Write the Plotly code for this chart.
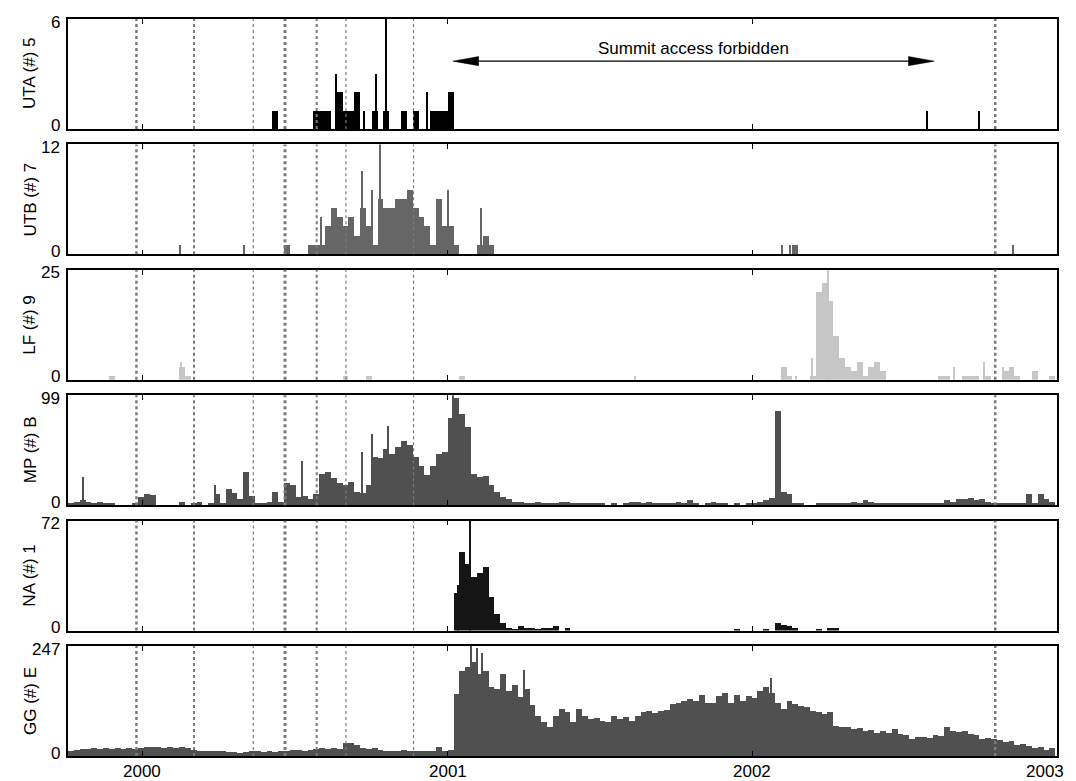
import pandas as pd
import plotly.graph_objects as go
from plotly.subplots import make_subplots

# ---------------- data (weekly event counts, weeks starting 1999-10-04) ----------------
START = "1999-10-04"
N_WEEKS = 169
weeks = pd.date_range(START, periods=N_WEEKS, freq="7D")

uta = [
    0, 0, 0, 0, 0, 0, 0, 0, 0, 0,
    0, 0, 0, 0, 0, 0, 0, 0, 0, 0,
    0, 0, 0, 0, 0, 0, 0, 0, 0, 0,
    0, 0, 0, 0, 0, 1, 0, 0, 0, 0,
    0, 0, 1, 1, 1, 0, 2, 1, 1, 2,
    0, 0, 1, 0, 1, 0, 0, 1, 0, 1,
    0, 0, 1, 1, 1, 2, 0, 0, 0, 0,
    0, 0, 0, 0, 0, 0, 0, 0, 0, 0,
    0, 0, 0, 0, 0, 0, 0, 0, 0, 0,
    0, 0, 0, 0, 0, 0, 0, 0, 0, 0,
    0, 0, 0, 0, 0, 0, 0, 0, 0, 0,
    0, 0, 0, 0, 0, 0, 0, 0, 0, 0,
    0, 0, 0, 0, 0, 0, 0, 0, 0, 0,
    0, 0, 0, 0, 0, 0, 0, 0, 0, 0,
    0, 0, 0, 0, 0, 0, 0, 0, 0, 0,
    0, 0, 0, 0, 0, 0, 0, 0, 0, 0,
    0, 0, 0, 0, 0, 0, 0, 0, 0,
]
uta_spike_dates = ["2000-08-20", "2000-09-23", "2000-10-07", "2000-10-19", "2000-12-07",
                   "2002-07-30", "2002-09-30"]
uta_spike_vals = [3, 1, 3, 6, 2, 1, 1]

utb = [
    0, 0, 0, 0, 0, 0, 0, 0, 0, 0,
    0, 0, 0, 0, 0, 0, 0, 0, 0, 0,
    0, 0, 0, 0, 0, 0, 0, 0, 0, 0,
    0, 0, 0, 0, 0, 0, 0, 1, 0, 0,
    0, 1, 1, 1, 3, 5, 4, 3, 4, 2,
    5, 3, 1, 6, 5, 5, 6, 6, 7, 5,
    4, 3, 1, 6, 3, 3, 1, 0, 0, 0,
    1, 2, 1, 0, 0, 0, 0, 0, 0, 0,
    0, 0, 0, 0, 0, 0, 0, 0, 0, 0,
    0, 0, 0, 0, 0, 0, 0, 0, 0, 0,
    0, 0, 0, 0, 0, 0, 0, 0, 0, 0,
    0, 0, 0, 0, 0, 0, 0, 0, 0, 0,
    0, 0, 0, 0, 1, 0, 0, 0, 0, 0,
    0, 0, 0, 0, 0, 0, 0, 0, 0, 0,
    0, 0, 0, 0, 0, 0, 0, 0, 0, 0,
    0, 0, 0, 0, 0, 0, 0, 0, 0, 0,
    0, 0, 0, 0, 0, 0, 0, 0, 0,
]
utb_spike_dates = ["2000-02-15", "2000-05-02", "2000-08-02", "2000-09-20", "2000-10-03",
                   "2000-10-12", "2001-01-01", "2001-02-10", "2002-02-06", "2002-02-15",
                   "2002-11-09"]
utb_spike_vals = [1, 1, 4, 9, 7, 12, 7, 5, 1, 1, 1]

lf = [
    0, 0, 0, 0, 0, 0, 0, 1, 0, 0,
    0, 0, 0, 0, 0, 0, 0, 0, 0, 3,
    1, 0, 0, 0, 0, 0, 0, 0, 0, 0,
    0, 0, 0, 0, 0, 0, 0, 0, 0, 0,
    0, 0, 0, 0, 0, 0, 0, 1, 0, 0,
    0, 1, 0, 0, 0, 0, 0, 0, 0, 0,
    0, 0, 0, 0, 0, 0, 0, 1, 0, 0,
    0, 0, 0, 0, 0, 0, 0, 0, 0, 0,
    0, 0, 0, 0, 0, 0, 0, 0, 0, 0,
    0, 0, 0, 0, 0, 0, 0, 0, 0, 0,
    0, 0, 0, 0, 0, 0, 0, 0, 0, 0,
    0, 0, 0, 0, 0, 0, 0, 0, 0, 0,
    0, 0, 3, 1, 0, 0, 0, 1, 20, 22,
    18, 10, 5, 3, 2, 4, 1, 3, 4, 2,
    0, 0, 0, 0, 0, 0, 0, 0, 0, 1,
    1, 0, 0, 1, 1, 1, 0, 1, 0, 0,
    2, 3, 1, 0, 0, 2, 0, 0, 1,
]
lf_spike_dates = ["2000-02-17", "2001-08-14", "2002-02-22", "2002-03-14", "2002-04-02",
                  "2002-08-31", "2002-10-06", "2002-10-28"]
lf_spike_vals = [4, 1, 1, 5, 25, 3, 4, 3]

mp = [
    1, 3, 4, 3, 2, 3, 1, 1, 0, 0,
    0, 1, 7, 10, 9, 0, 0, 0, 0, 3,
    0, 1, 3, 0, 1, 10, 1, 14, 11, 5,
    30, 8, 2, 2, 3, 12, 3, 20, 18, 7,
    8, 5, 10, 28, 30, 24, 20, 18, 21, 12,
    11, 18, 43, 42, 50, 46, 52, 58, 54, 43,
    35, 27, 35, 46, 48, 78, 96, 82, 70, 28,
    25, 26, 18, 12, 7, 5, 3, 3, 2, 1,
    3, 1, 2, 1, 3, 3, 1, 1, 1, 2,
    1, 1, 0, 1, 0, 1, 3, 3, 2, 3,
    1, 1, 1, 2, 3, 2, 4, 1, 0, 1,
    3, 2, 1, 0, 1, 0, 1, 2, 3, 4,
    6, 85, 12, 10, 2, 1, 0, 0, 1, 1,
    2, 1, 1, 1, 3, 1, 4, 3, 2, 1,
    1, 1, 2, 1, 2, 1, 1, 2, 1, 1,
    4, 3, 5, 5, 6, 4, 5, 3, 2, 1,
    1, 1, 2, 1, 10, 1, 10, 5, 3,
]
mp_spike_dates = ["1999-10-22", "2000-03-28", "2000-07-10", "2000-09-20", "2000-10-02",
                  "2000-10-22", "2001-01-08"]
mp_spike_vals = [25, 18, 40, 48, 64, 71, 99]

na = [
    0, 0, 0, 0, 0, 0, 0, 0, 0, 0,
    0, 0, 0, 0, 0, 0, 0, 0, 0, 0,
    0, 0, 0, 0, 0, 0, 0, 0, 0, 0,
    0, 0, 0, 0, 0, 0, 0, 0, 0, 0,
    0, 0, 0, 0, 0, 0, 0, 0, 0, 0,
    0, 0, 0, 0, 0, 0, 0, 0, 0, 0,
    0, 0, 0, 0, 0, 0, 25, 52, 44, 35,
    38, 42, 22, 11, 5, 2, 1, 3, 2, 2,
    1, 2, 2, 3, 0, 2, 0, 0, 0, 0,
    0, 0, 0, 0, 0, 0, 0, 0, 0, 0,
    0, 0, 0, 0, 0, 0, 0, 0, 0, 0,
    0, 0, 0, 0, 1, 0, 0, 0, 0, 1,
    0, 5, 4, 3, 2, 0, 0, 0, 1, 0,
    2, 2, 0, 0, 0, 0, 0, 0, 0, 0,
    0, 0, 0, 0, 0, 0, 0, 0, 0, 0,
    0, 0, 0, 0, 0, 0, 0, 0, 0, 0,
    0, 0, 0, 0, 0, 0, 0, 0, 0,
]
na_spike_dates = ["2001-01-13", "2001-01-28"]
na_spike_vals = [30, 72]

gg = [
    10, 14, 16, 15, 17, 16, 18, 15, 17, 16,
    18, 15, 17, 20, 19, 21, 18, 20, 17, 19,
    18, 14, 11, 10, 11, 11, 10, 9, 8, 7,
    9, 10, 10, 9, 11, 8, 10, 12, 13, 14,
    12, 14, 15, 17, 16, 18, 16, 28, 30, 24,
    17, 16, 18, 14, 12, 12, 11, 13, 11, 12,
    11, 12, 11, 21, 12, 14, 140, 190, 200, 210,
    185, 190, 155, 150, 185, 145, 160, 132, 150, 115,
    90, 76, 66, 90, 105, 98, 76, 105, 90, 83,
    86, 79, 76, 90, 83, 87, 79, 90, 98, 100,
    96, 101, 104, 116, 120, 123, 127, 123, 138, 120,
    118, 134, 142, 120, 138, 123, 134, 130, 145, 156,
    142, 120, 105, 123, 116, 112, 109, 101, 98, 95,
    98, 68, 64, 66, 60, 63, 55, 58, 52, 56,
    51, 61, 50, 47, 39, 42, 43, 40, 46, 44,
    65, 57, 53, 57, 50, 47, 39, 41, 37, 35,
    32, 34, 24, 27, 22, 17, 19, 13, 17,
]
gg_spike_dates = ["2001-01-29", "2001-02-05", "2001-02-11", "2001-04-02", "2002-01-23"]
gg_spike_vals = [247, 243, 232, 193, 176]

labels = ["UTA (#) 5", "UTB (#) 7", "LF (#) 9", "MP (#) B", "NA (#) 1", "GG (#) E"]
y_max = [6, 12, 25, 99, 72, 247]
colors = ["#000000", "#666666", "#c6c6c6", "#505050", "#151515", "#505050"]
series = [uta, utb, lf, mp, na, gg]
spike_dates = [uta_spike_dates, utb_spike_dates, lf_spike_dates, mp_spike_dates,
               na_spike_dates, gg_spike_dates]
spike_vals = [uta_spike_vals, utb_spike_vals, lf_spike_vals, mp_spike_vals,
              na_spike_vals, gg_spike_vals]

year_ticks = ["2000-01-01", "2001-01-01", "2002-01-01", "2003-01-01"]
year_labels = ["2000", "2001", "2002", "2003"]

# marked dates (dotted vertical lines) and their line widths
event_dates = ["1999-12-25", "2000-03-03", "2000-05-13", "2000-06-20",
               "2000-07-28", "2000-09-01", "2000-11-21", "2002-10-19"]
event_widths = [2.5, 2.0, 1.2, 3.0, 2.0, 1.2, 1.2, 2.5]

# summit closure period (arrow)
closure_start, closure_end = "2001-01-07", "2002-08-07"
closure_text = "Summit access forbidden"

for s in series:
    assert len(s) == N_WEEKS, len(s)

# ---------------- figure ----------------
# The page body has an 8 px default margin, so the figure is sized to fill the
# rest of the 1076x781 window.
PAGE_OFF = 8
W, H = 1076 - PAGE_OFF, 781 - PAGE_OFF
ML, MR, MT, MB = 68 - PAGE_OFF, 19, 19 - PAGE_OFF, 25
plot_w = W - ML - MR
plot_h = H - MT - MB
fig = make_subplots(rows=6, cols=1, shared_xaxes=True,
                    vertical_spacing=15.5 / plot_h)

DAY_MS = 86400000
FONT = "Liberation Sans, Arial, Helvetica, sans-serif"
TXT = dict(size=17, color="#000", family=FONT)

for i in range(6):
    r = i + 1
    fig.add_trace(go.Bar(x=weeks, y=series[i], width=7 * DAY_MS, offset=0,
                         marker=dict(color=colors[i], line=dict(width=0)),
                         showlegend=False, hoverinfo="x+y"), row=r, col=1)
    fig.add_trace(go.Bar(x=pd.to_datetime(spike_dates[i]), y=spike_vals[i],
                         width=1.6 * DAY_MS,
                         marker=dict(color=colors[i], line=dict(width=0)),
                         showlegend=False, hoverinfo="x+y"), row=r, col=1)
    fig.update_yaxes(range=[0, y_max[i]], row=r, col=1)
    xr = "x" if r == 1 else f"x{r}"
    yr = "y" if r == 1 else f"y{r}"
    for d, w in zip(event_dates, event_widths):
        fig.add_shape(type="line", x0=d, x1=d, y0=0, y1=1, xref=xr,
                      yref=f"{yr} domain",
                      line=dict(color="#7a7a7a", width=w, dash="dot"),
                      layer="above")
    # y tick labels (0 and maximum), nudged so neighbouring panels do not collide
    fig.add_annotation(text="0", xref="paper", yref=f"{yr} domain", x=0, y=0,
                       xanchor="right", yanchor="middle", xshift=-6, yshift=3,
                       showarrow=False, font=TXT)
    fig.add_annotation(text=str(y_max[i]), xref="paper", yref=f"{yr} domain", x=0, y=1,
                       xanchor="right", yanchor="middle", xshift=-6, yshift=-3,
                       showarrow=False, font=TXT)
    # y-axis title
    fig.add_annotation(text=labels[i], xref="paper", yref=f"{yr} domain",
                       x=-(ML - (30 - PAGE_OFF)) / plot_w, y=0.5,
                       xanchor="center", yanchor="middle", textangle=-90,
                       showarrow=False, font=TXT)

# year labels under the bottom panel
for d, t in zip(year_ticks, year_labels):
    last = t == year_labels[-1]
    fig.add_annotation(text=t, xref="x6", yref="y6 domain", x=d, y=0,
                       xanchor="center", yanchor="top", yshift=-4,
                       xshift=-12 if last else 0, showarrow=False, font=TXT)

fig.update_xaxes(type="date", range=["1999-10-04", "2003-01-01"],
                 tickvals=year_ticks, showticklabels=False,
                 ticks="inside", ticklen=5, tickwidth=1.2, tickcolor="#000",
                 showline=True, linecolor="#000", linewidth=1.6, mirror="allticks",
                 showgrid=False, zeroline=False, automargin=False)
fig.update_yaxes(ticks="", showticklabels=False, showline=True, linecolor="#000",
                 linewidth=1.6, mirror=True, showgrid=False, zeroline=False,
                 automargin=False)

# "Summit access forbidden" double arrow on the top panel
arrow_y = 3.7
head_len = pd.Timedelta(days=31)
head_half = 0.25
t0, t1 = pd.Timestamp(closure_start), pd.Timestamp(closure_end)
fig.add_trace(go.Scatter(x=[t0 + head_len / 2, t1 - head_len / 2], y=[arrow_y, arrow_y],
                         mode="lines", line=dict(color="#000", width=1.3),
                         showlegend=False, hoverinfo="skip"), row=1, col=1)
fig.add_trace(go.Scatter(x=[t0, t0 + head_len, t0 + head_len, t0],
                         y=[arrow_y, arrow_y + head_half, arrow_y - head_half, arrow_y],
                         mode="lines", fill="toself", fillcolor="#000",
                         line=dict(color="#000", width=0.5),
                         showlegend=False, hoverinfo="skip"), row=1, col=1)
fig.add_trace(go.Scatter(x=[t1, t1 - head_len, t1 - head_len, t1],
                         y=[arrow_y, arrow_y + head_half, arrow_y - head_half, arrow_y],
                         mode="lines", fill="toself", fillcolor="#000",
                         line=dict(color="#000", width=0.5),
                         showlegend=False, hoverinfo="skip"), row=1, col=1)
fig.add_annotation(x="2001-10-23", y=4.4, xref="x", yref="y",
                   text=closure_text, showarrow=False, font=TXT)

fig.update_layout(width=W, height=H, barmode="overlay", bargap=0,
                  margin=dict(l=ML, r=MR, t=MT, b=MB, autoexpand=False),
                  paper_bgcolor="white", plot_bgcolor="white",
                  font=dict(family=FONT, color="#000"))

fig.write_html("out.html")
